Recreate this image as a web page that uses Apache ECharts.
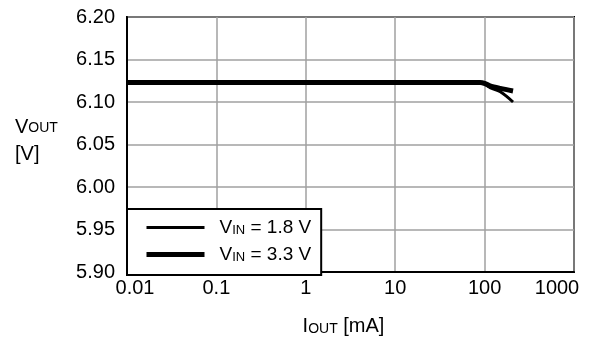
<!DOCTYPE html>
<html>
<head>
<meta charset="utf-8">
<script src="https://cdn.jsdelivr.net/npm/echarts@6/dist/echarts.min.js"></script>
<style>html,body{margin:0;padding:0;background:#fff;}#c{width:611px;height:341px;}</style>
</head>
<body>
<div id="c"></div>
<script>
// Data
var seriesNames = ['VIN = 1.8 V', 'VIN = 3.3 V'];
var legendValues = ['1.8 V', '3.3 V'];
var iout18 = [0.01, 0.1, 1, 10, 80, 100, 115, 150, 208];
var vout18 = [6.123, 6.123, 6.123, 6.123, 6.123, 6.121, 6.117, 6.112, 6.100];
var iout33 = [0.01, 0.1, 1, 10, 89, 100, 115, 150, 208];
var vout33 = [6.123, 6.123, 6.123, 6.123, 6.123, 6.122, 6.119, 6.116, 6.113];
var xTicks = ['0.01', '0.1', '1', '10', '100', '1000'];
var yTicks = ['5.90', '5.95', '6.00', '6.05', '6.10', '6.15', '6.20'];

function pairs(xs, ys) { return xs.map(function (x, i) { return [x, ys[i]]; }); }

var FONT = 'Liberation Sans, Arial, Helvetica, sans-serif';
var FS = 20;
var xShift = ['r', '', '', '', '', 'l'];
var chart = echarts.init(document.getElementById('c'), null, { renderer: 'canvas' });
var option = {
  animation: false,
  backgroundColor: '#fff',
  textStyle: { fontFamily: FONT, color: '#000' },
  grid: { left: 127, right: 37, top: 17, bottom: 68, show: true, borderColor: '#000', borderWidth: 2, containLabel: false },
  xAxis: {
    type: 'log', logBase: 10, min: 0.01, max: 1000,
    axisLine: { show: true, lineStyle: { color: '#000', width: 2 } },
    axisTick: { show: false },
    minorTick: { show: false },
    splitLine: { show: true, lineStyle: { color: '#a0a0a0', width: 1.5 } },
    axisLabel: { color: '#000', fontSize: FS, fontFamily: FONT, margin: 6,
      formatter: function (v) {
        var i = Math.round(Math.log10(v)) + 2;
        if (xTicks[i] === undefined) return '';
        return xShift[i] ? '{' + xShift[i] + '|' + xTicks[i] + '}' : xTicks[i];
      },
      rich: {
        r: { fontSize: FS, fontFamily: FONT, color: '#000', padding: [0, 0, 0, 16] },
        l: { fontSize: FS, fontFamily: FONT, color: '#000', padding: [0, 34, 0, 0] }
      } },
    name: 'I{s|OUT} [mA]', nameLocation: 'middle', nameGap: 44,
    nameTextStyle: { color: '#000', fontSize: FS, fontFamily: FONT, padding: [0, 14, 0, 0],
      rich: { s: { fontSize: 14, fontFamily: FONT, color: '#000', padding: [6, 0, 0, 0] } } }
  },
  yAxis: {
    type: 'value', min: 5.9, max: 6.2, interval: 0.05,
    axisLine: { show: true, lineStyle: { color: '#000', width: 2 } },
    axisTick: { show: false },
    splitLine: { show: true, lineStyle: { color: '#a0a0a0', width: 1.5 } },
    axisLabel: { color: '#000', fontSize: FS, fontFamily: FONT, margin: 12,
      formatter: function (v) { var i = Math.round((v - 5.9) / 0.05); return yTicks[i] !== undefined ? yTicks[i] : ''; } }
  },
  legend: {
    left: 127, top: 209, orient: 'vertical',
    backgroundColor: '#fff', borderColor: '#000', borderWidth: 2,
    padding: [9, 10, 11, 17], itemGap: 8,
    itemWidth: 58, itemHeight: 16,
    data: [
      { name: seriesNames[0], lineStyle: { width: 3, color: '#000' }, itemStyle: { opacity: 0 } },
      { name: seriesNames[1], lineStyle: { width: 5, color: '#000' }, itemStyle: { opacity: 0 } }
    ],
    formatter: function (n) { var i = seriesNames.indexOf(n); return 'V{s|IN} = ' + legendValues[i]; },
    textStyle: { color: '#000', fontSize: 19, fontFamily: FONT, padding: [0, 0, 0, 10],
      rich: { s: { fontSize: 13, fontFamily: FONT, color: '#000', padding: [6, 0, 0, 0] } } }
  },
  graphic: [
    { type: 'text', left: 15, top: 117, style: { text: 'V{s|OUT}', font: FS + 'px ' + FONT, fill: '#000',
      rich: { s: { fontSize: 14, fontFamily: FONT, fill: '#000', padding: [3, 0, 0, 0] } } } },
    { type: 'text', left: 15, top: 144, style: { text: '[V]', font: FS + 'px ' + FONT, fill: '#000' } }
  ],
  color: ['#000', '#000'],
  series: [
    { name: seriesNames[0], type: 'line', data: pairs(iout18, vout18), symbol: 'none', smooth: 0.3,
      itemStyle: { color: '#000' }, lineStyle: { color: '#000', width: 3 } },
    { name: seriesNames[1], type: 'line', data: pairs(iout33, vout33), symbol: 'none', smooth: 0.3,
      itemStyle: { color: '#000' }, lineStyle: { color: '#000', width: 5 } }
  ]
};
chart.setOption(option);
</script>
</body>
</html>
